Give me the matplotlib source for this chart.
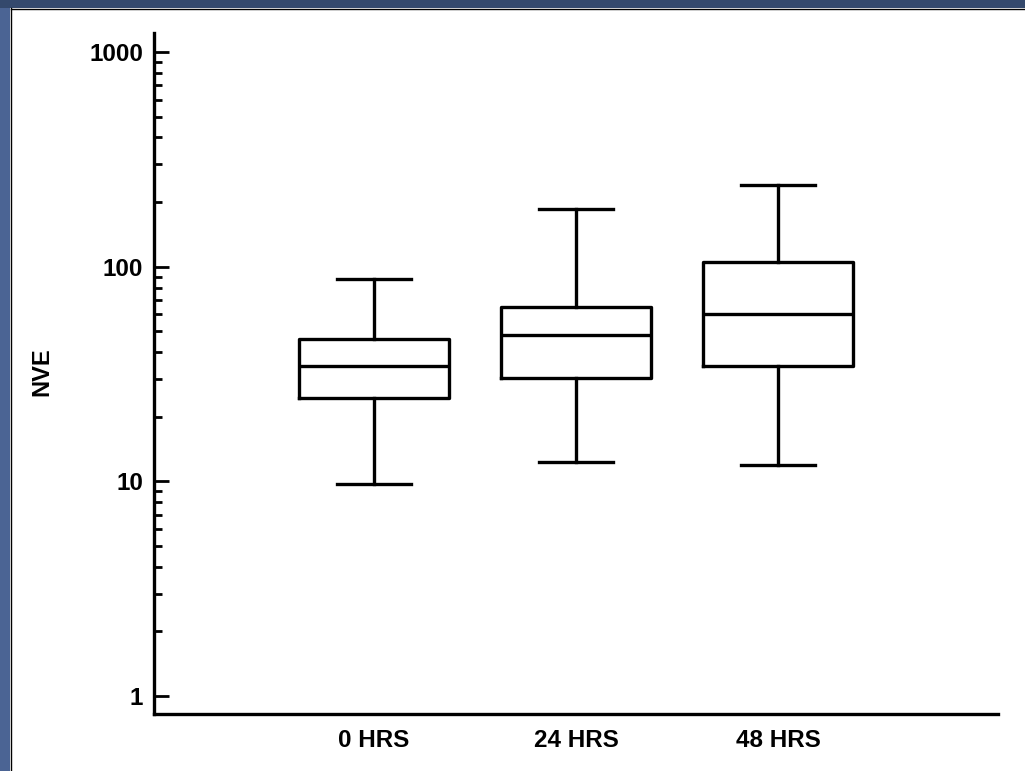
import matplotlib
matplotlib.use("Agg")
import matplotlib.pyplot as plt
from matplotlib.patches import Rectangle
from matplotlib.lines import Line2D
from matplotlib.ticker import FixedLocator, NullFormatter

# ---- data ----
categories = ["0 HRS", "24 HRS", "48 HRS"]
whisker_low = [9.7, 12.3, 11.9]
q1 = [24.5, 30.3, 34.5]
median = [34.5, 48.1, 60.2]
q3 = [46.0, 64.9, 105.0]
whisker_high = [87.7, 185.7, 240.0]
y_ticks = [1, 10, 100, 1000]
y_tick_labels = ["1", "10", "100", "1000"]

plt.rcParams['font.family'] = ['Liberation Sans', 'DejaVu Sans']
plt.rcParams['font.weight'] = 'bold'

W, H = 1025, 771
fig = plt.figure(figsize=(W / 100, H / 100), dpi=100)
fig.patch.set_facecolor('white')

# window frame decoration (left and top blue border)
fig.patches.append(Rectangle((0, 0), 10 / W, 1, transform=fig.transFigure,
                             facecolor='#4b6494', edgecolor='none', zorder=0))
fig.patches.append(Rectangle((0, 1 - 8 / H), 1, 8 / H, transform=fig.transFigure,
                             facecolor='#34496d', edgecolor='none', zorder=0))
fig.lines.append(Line2D([10.5 / W, 10.5 / W], [0, 1 - 8 / H], transform=fig.transFigure,
                        color='black', lw=1))
fig.lines.append(Line2D([10.5 / W, 1], [1 - 8.5 / H, 1 - 8.5 / H], transform=fig.transFigure,
                        color='black', lw=1))

left, right = 154 / W, 998 / W
bottom, top = (H - 714) / H, (H - 33) / H
ax = fig.add_axes([left, bottom, right - left, top - bottom])
ax.set_facecolor('white')

stats = []
for i, c in enumerate(categories):
    stats.append(dict(label=c, whislo=whisker_low[i], q1=q1[i], med=median[i],
                      q3=q3[i], whishi=whisker_high[i], fliers=[]))

positions = [1, 2, 3]
lw = 2.4
ax.bxp(stats, positions=positions, widths=0.74, capwidths=0.37,
       showfliers=False, patch_artist=False,
       boxprops=dict(color='black', linewidth=lw),
       medianprops=dict(color='black', linewidth=lw),
       whiskerprops=dict(color='black', linewidth=lw),
       capprops=dict(color='black', linewidth=lw))

ax.set_yscale('log')
ax.set_ylim(0.8254, 1226)
ax.set_xlim(1 - 1.089, 3 + 1.089)

ax.yaxis.set_major_locator(FixedLocator(y_ticks))
ax.set_yticklabels(y_tick_labels)
minor = [m * d for d in y_ticks[:-1] for m in range(2, 10)]
ax.yaxis.set_minor_locator(FixedLocator(minor))
ax.yaxis.set_minor_formatter(NullFormatter())

ax.set_xticks(positions)
ax.set_xticklabels(categories)

for s in ['top', 'right']:
    ax.spines[s].set_visible(False)
for s in ['left', 'bottom']:
    ax.spines[s].set_linewidth(2.4)
    ax.spines[s].set_color('black')

ax.tick_params(axis='y', which='major', direction='in', length=11, width=2.0,
               labelsize=17.5, pad=8)
ax.tick_params(axis='y', which='minor', direction='in', length=5.5, width=2.0)
ax.tick_params(axis='x', which='both', length=0, labelsize=17.5, pad=11)
for t in ax.get_xticklabels() + ax.get_yticklabels():
    t.set_fontweight('bold')

ax.set_ylabel("NVE", fontsize=17, fontweight='bold')
ax.yaxis.set_label_coords(-0.1197, 0.502)

fig.savefig("out.png", dpi=100, facecolor=fig.get_facecolor())
